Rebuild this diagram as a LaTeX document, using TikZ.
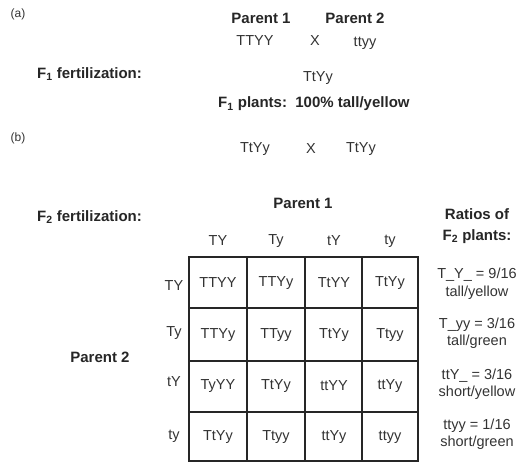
\documentclass[tikz,border=0pt]{standalone}
\usepackage{fontspec}
\setmainfont{Liberation Sans}
\begin{document}
\begin{tikzpicture}[x=1pt,y=-1pt,
  lbl/.style={font=\fontsize{15}{16}\selectfont\bfseries, inner sep=0pt, text=black!85},
  txt/.style={font=\fontsize{14.5}{15}\selectfont, inner sep=0pt, text=black!80},
  tag/.style={font=\fontsize{12}{12}\selectfont, inner sep=0pt, text=black!80},
  cell/.style={font=\fontsize{14.5}{15}\selectfont, inner sep=0pt, text=black!80},
  ratio/.style={font=\fontsize{14.5}{16}\selectfont, inner sep=0pt, text=black!80, align=center},
  gridline/.style={line width=1.3pt, black!85}]
\useasboundingbox (0,0) rectangle (527,462);
% part (a)
\node[tag] (ta) at (18,14) {(a)};
\node[lbl] (p1a) at (261,18) {Parent 1};
\node[lbl] (p2a) at (355,18) {Parent 2};
\node[txt] (g1) at (255,41) {TTYY};
\node[txt] (xa) at (315,41) {X};
\node[txt] (g2) at (365,43) {ttyy};
\node[lbl, anchor=west] (f1f) at (37,74) {F$_{\mathbf 1}$ fertilization:};
\node[txt] (f1) at (318,78) {TtYy};
\node[lbl, anchor=west] (f1p) at (218,104) {F$_{\mathbf 1}$ plants:\ \ 100\% tall/yellow};
% part (b)
\node[tag] (tb) at (18,138) {(b)};
\node[txt] (b1) at (255,149) {TtYy};
\node[txt] (xb) at (311,149) {X};
\node[txt] (b2) at (361,149) {TtYy};
\node[lbl, anchor=west] (f2f) at (37,217) {F$_{\mathbf 2}$ fertilization:};
\node[lbl] (p1b) at (303,203) {Parent 1};
\node[lbl] (p2b) at (100,357) {Parent 2};
\node[lbl, align=center] (rat) at (477,226) {Ratios of\\[5pt]F$_{\mathbf 2}$ plants:};
% grid
\draw[gridline] (189,257) rectangle (418,461);
\foreach \x in {247,305,362} \draw[gridline] (\x,257) -- (\x,461);
\foreach \y in {308,361,412} \draw[gridline] (189,\y) -- (418,\y);
% headers
\node[txt] (c1) at (218,241) {TY};
\node[txt] (c2) at (276,241) {Ty};
\node[txt] (c3) at (334,241) {tY};
\node[txt] (c4) at (390,241) {ty};
\node[txt] (r1) at (174,286) {TY};
\node[txt] (r2) at (174,333) {Ty};
\node[txt] (r3) at (174,382) {tY};
\node[txt] (r4) at (174,436) {ty};
% cells
\node[cell] at (218,283) {TTYY};
\node[cell] at (276,283) {TTYy};
\node[cell] at (334,283) {TtYY};
\node[cell] at (390,283) {TtYy};
\node[cell] at (218,335) {TTYy};
\node[cell] at (276,335) {TTyy};
\node[cell] at (334,335) {TtYy};
\node[cell] at (390,335) {Ttyy};
\node[cell] at (218,386) {TyYY};
\node[cell] at (276,386) {TtYy};
\node[cell] at (334,386) {ttYY};
\node[cell] at (390,386) {ttYy};
\node[cell] at (218,437) {TtYy};
\node[cell] at (276,437) {Ttyy};
\node[cell] at (334,437) {ttYy};
\node[cell] at (390,437) {ttyy};
% ratios
\node[ratio] (q1) at (477,284) {T\_Y\_ = 9/16\\[1.5pt]tall/yellow};
\node[ratio] (q2) at (477,333) {T\_yy = 3/16\\[1.5pt]tall/green};
\node[ratio] (q3) at (477,384) {ttY\_ = 3/16\\[1.5pt]short/yellow};
\node[ratio] (q4) at (477,434) {ttyy = 1/16\\[1.5pt]short/green};
\end{tikzpicture}
\end{document}
